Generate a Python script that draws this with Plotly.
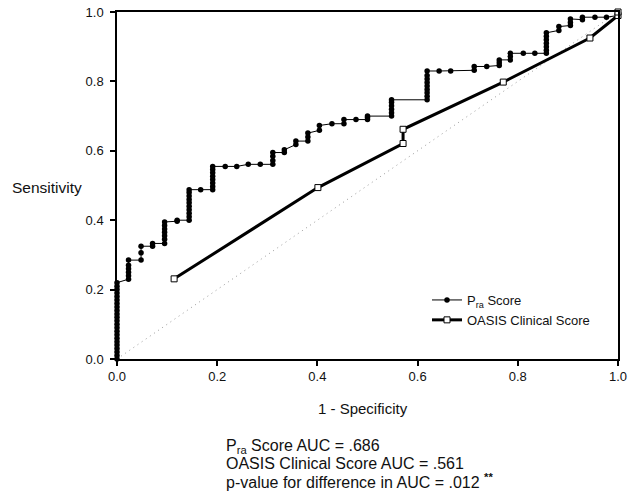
import plotly.graph_objects as go

# ROC operating points for the P_ra score (1 - specificity, sensitivity);
# stacked values at one x are tied cut-offs
pra_fpr = (
    [0.0] * 23
    + [0.023] * 6
    + [0.048] * 3
    + [0.071] * 2
    + [0.095] * 7
    + [0.12] * 2
    + [0.144] * 10
    + [0.167]
    + [0.191] * 8
    + [0.216, 0.239, 0.262, 0.286]
    + [0.311] * 4
    + [0.334] * 2
    + [0.357] * 2
    + [0.381] * 3
    + [0.404] * 2
    + [0.429]
    + [0.453] * 2
    + [0.477]
    + [0.50] * 3
    + [0.548] * 6
    + [0.619] * 9
    + [0.643, 0.666]
    + [0.713] * 2
    + [0.738]
    + [0.763] * 3
    + [0.785] * 3
    + [0.811, 0.834]
    + [0.857] * 7
    + [0.882] * 2
    + [0.905] * 3
    + [0.929] * 2
    + [0.954, 0.977]
    + [1.0] * 2
)
pra_tpr = [
    0.0, 0.01, 0.02, 0.03, 0.04, 0.05, 0.06, 0.07, 0.08, 0.09, 0.10, 0.11,
    0.12, 0.13, 0.14, 0.15, 0.16, 0.17, 0.18, 0.19, 0.20, 0.21, 0.22,
    0.23, 0.24, 0.25, 0.26, 0.27, 0.285,
    0.285, 0.306, 0.325,
    0.325, 0.333,
    0.333, 0.345, 0.355, 0.365, 0.375, 0.385, 0.395,
    0.397, 0.40,
    0.40, 0.41, 0.42, 0.43, 0.44, 0.45, 0.46, 0.47, 0.48, 0.488,
    0.488,
    0.488, 0.497, 0.507, 0.517, 0.527, 0.537, 0.546, 0.555,
    0.555, 0.555, 0.561, 0.561,
    0.561, 0.572, 0.584, 0.595,
    0.595, 0.603,
    0.618, 0.628,
    0.628, 0.64, 0.651,
    0.659, 0.673,
    0.678,
    0.678, 0.69,
    0.69,
    0.69, 0.696, 0.70,
    0.70, 0.71, 0.72, 0.73, 0.74, 0.747,
    0.747, 0.757, 0.767, 0.777, 0.787, 0.797, 0.807, 0.817, 0.83,
    0.83, 0.83,
    0.832, 0.843,
    0.843,
    0.846, 0.854, 0.862,
    0.862, 0.872, 0.881,
    0.881, 0.881,
    0.881, 0.89, 0.90, 0.91, 0.92, 0.93, 0.94,
    0.947, 0.958,
    0.961, 0.97, 0.98,
    0.978, 0.985,
    0.985, 0.985,
    0.99, 1.0,
]

# ROC operating points for the OASIS clinical score
oasis_fpr = [0.114, 0.401, 0.571, 0.571, 0.771, 0.944, 1.0, 1.0]
oasis_tpr = [0.231, 0.494, 0.621, 0.662, 0.798, 0.925, 0.99, 1.0]

# chance line
chance_x = [0.0, 1.0]
chance_y = [0.0, 1.0]

tick_vals = [0.0, 0.2, 0.4, 0.6, 0.8, 1.0]
tick_text = ["0.0", "0.2", "0.4", "0.6", "0.8", "1.0"]

summary_lines = [
    "P<sub>ra</sub> Score AUC = .686",
    "OASIS Clinical Score AUC = .561",
    "p-value for difference in AUC = .012 <b><sup>**</sup></b>",
]

FONT = "Liberation Sans, Arial, Helvetica, sans-serif"

W, H = 629, 504
L, R, T, B = 117, 11, 12, 145
pw, ph = W - L - R, H - T - B


def px_to_paper(xp, yp):
    """Convert a pixel position on the page to paper coordinates."""
    return (xp - L) / pw, (H - B - yp) / ph


fig = go.Figure()

fig.add_trace(go.Scatter(
    x=chance_x, y=chance_y, mode="lines",
    line=dict(color="#9a9a9a", width=1, dash="1px,4px"),
    showlegend=False, hoverinfo="skip",
))

fig.add_trace(go.Scatter(
    x=pra_fpr, y=pra_tpr, mode="lines+markers",
    name="P<sub>ra</sub> Score",
    legendgroup="pra",
    line=dict(color="black", width=1),
    marker=dict(symbol="circle", size=5.5, color="black"),
    cliponaxis=False,
))

fig.add_trace(go.Scatter(
    x=oasis_fpr, y=oasis_tpr, mode="lines+markers",
    name="OASIS Clinical Score",
    legendgroup="oasis",
    line=dict(color="black", width=3),
    marker=dict(symbol="square", size=6, color="white",
                line=dict(color="black", width=1)),
    cliponaxis=False,
))

axis_common = dict(
    range=[0, 1],
    tickmode="array",
    tickvals=tick_vals,
    ticktext=tick_text,
    ticks="outside",
    ticklen=5,
    tickwidth=1.5,
    tickcolor="black",
    showline=True,
    linecolor="black",
    linewidth=1.5,
    mirror=True,
    showgrid=False,
    zeroline=False,
    automargin=False,
    tickfont=dict(family=FONT, size=13, color="#111"),
)

fig.update_xaxes(**axis_common)
fig.update_yaxes(**axis_common, ticklabelstandoff=4)

lx, ly = px_to_paper(427, 285)

fig.update_layout(
    width=W,
    height=H,
    margin=dict(l=L, r=R, t=T, b=B, autoexpand=False),
    paper_bgcolor="white",
    plot_bgcolor="white",
    font=dict(family=FONT, color="#111"),
    showlegend=True,
    legend=dict(
        x=lx, y=ly, xanchor="left", yanchor="top",
        bgcolor="rgba(0,0,0,0)",
        font=dict(family=FONT, size=13, color="#111"),
        tracegroupgap=0,
        traceorder="grouped",
    ),
)

ann = []
ax_, ay_ = px_to_paper(363, 408)
ann.append(dict(text="1 - Specificity", x=ax_, y=ay_, xref="paper", yref="paper",
                xanchor="center", yanchor="middle", showarrow=False,
                font=dict(family=FONT, size=15, color="#111")))
sx, sy = px_to_paper(10, 187)
ann.append(dict(text="Sensitivity", x=sx, y=sy, xref="paper", yref="paper",
                xanchor="left", yanchor="middle", showarrow=False,
                font=dict(family=FONT, size=15.5, color="#111")))
for i, line in enumerate(summary_lines):
    tx, ty = px_to_paper(224, 446 + 17.5 * i)
    ann.append(dict(text=line, x=tx, y=ty, xref="paper", yref="paper",
                    xanchor="left", yanchor="middle", showarrow=False,
                    font=dict(family=FONT, size=16, color="#111")))

fig.update_layout(annotations=ann)

fig.write_html("out.html")
